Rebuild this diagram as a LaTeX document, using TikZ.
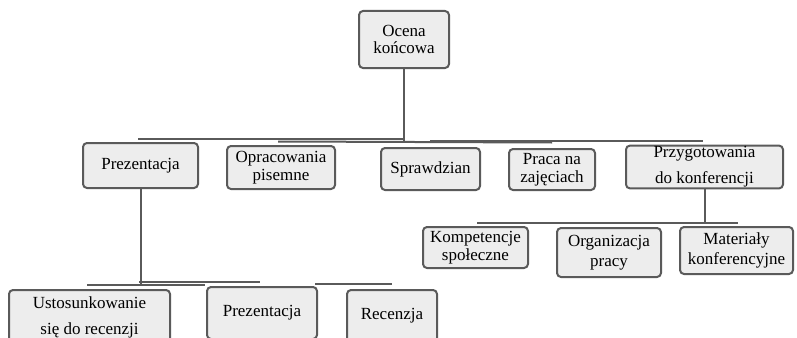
\documentclass[tikz,border=0pt]{standalone}
\usepackage{fontspec}
\setmainfont{Liberation Serif}
\definecolor{edge}{HTML}{5A5A5A}
\definecolor{boxfill}{HTML}{EDEDED}
\begin{document}
\begin{tikzpicture}[x=1pt,y=1pt,
  box/.style={draw=edge, line width=2pt, fill=boxfill, rounded corners=4pt,
    align=center, inner sep=1pt, font=\fontsize{17}{17.5}\selectfont},
  wide/.style={font=\fontsize{17}{26}\selectfont},
  mid/.style={font=\fontsize{17}{20}\selectfont},
  conn/.style={draw=edge, line width=2pt}]
\useasboundingbox (0,0) rectangle (797,-337);
\clip (0,0) rectangle (797,-337);

% root
\node[box, minimum width=90, minimum height=57] (top) at (404,-39.5) {Ocena\\końcowa};

% first level
\node[box, minimum width=115, minimum height=45] (prez) at (140.5,-165.5) {Prezentacja};
\node[box, minimum width=108, minimum height=43] (opr) at (281,-167.5) {Opracowania\\pisemne};
\node[box, minimum width=99, minimum height=42] (spr) at (430.5,-169) {Sprawdzian};
\node[box, minimum width=86, minimum height=41] (praca) at (552,-169.5) {Praca na\\zajęciach};
\node[box, wide, minimum width=157, minimum height=42] (przyg) at (704.5,-167) {Przygotowania\\do konferencji};

% second level under the conference branch
\node[box, minimum width=105, minimum height=41] (komp) at (475.5,-247.5) {Kompetencje\\społeczne};
\node[box, mid, minimum width=104, minimum height=49] (org) at (609,-252.5) {Organizacja\\pracy};
\node[box, mid, minimum width=113, minimum height=47] (mat) at (736.5,-250.5) {Materiały\\konferencyjne};

% second level under the presentation branch
\node[box, wide, minimum width=161, minimum height=55] (ust) at (89.5,-317.5) {Ustosunkowanie\\się do recenzji};
\node[box, minimum width=110, minimum height=52] (prez2) at (262,-313) {Prezentacja};
\node[box, minimum width=90, minimum height=52] (rec) at (392,-316) {Recenzja};

% bar coordinates
\coordinate (r1) at (138,-139);  \coordinate (r2) at (403,-139);
\coordinate (r3) at (278,-141.5);\coordinate (r4) at (552,-142.5);
\coordinate (r5) at (430,-140.5);\coordinate (r6) at (703,-140.5);
\coordinate (k1) at (477,-223);  \coordinate (k2) at (738,-223);
\coordinate (u1) at (87,-285);   \coordinate (u2) at (205,-285);
\coordinate (u3) at (139,-282);  \coordinate (u4) at (260,-282);
\coordinate (u5) at (315,-284);  \coordinate (u6) at (392,-284);

% connectors
\draw[conn] (top.south) -- (top.south |- r4);
\draw[conn] (r1) -- (r2);
\draw[conn] (r3) -- (r4);
\draw[conn] (r5) -- (r6);
\draw[conn] (przyg.south) -- (przyg.south |- k1);
\draw[conn] (k1) -- (k2);
\draw[conn] (prez.south) -- (prez.south |- u2);
\draw[conn] (u1) -- (u2);
\draw[conn] (u3) -- (u4);
\draw[conn] (u5) -- (u6);
\end{tikzpicture}
\end{document}
